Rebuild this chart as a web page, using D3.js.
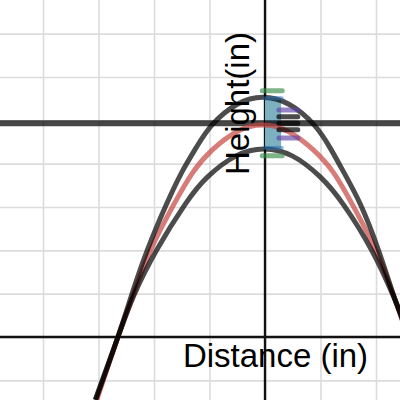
<!DOCTYPE html>
<html><head><meta charset="utf-8">
<script src="https://cdn.jsdelivr.net/npm/d3@7"></script>
<style>html,body{margin:0;padding:0;background:#fff;overflow:hidden}</style>
</head><body><svg id="c" width="400" height="400"></svg>
<script>
// ---- data ----
const xGridTicks = [-4, -3, -2, -1, 0, 1, 2];
const yGridTicks = [-1, 0, 1, 2, 3, 4, 5, 6, 7];
const xLabel = "Distance (in)";
const yLabel = "Height(in)";

const upperCurve = [[-3.05,-1.45],[-2.65,0],[-2.38,1.06],[-2.11,2.04],[-1.78,3.05],[-1.50,3.80],[-1.24,4.37],[-0.95,4.90],[-0.50,5.37],[-0.04,5.53],[0.43,5.37],[0.88,4.90],[1.17,4.37],[1.42,3.80],[1.73,3.03],[2.04,2.02],[2.29,1.06],[2.43,0.55],[2.58,0]];
const fitCurve = [[-3.03,-1.45],[-2.65,0],[-2.36,1.02],[-2.06,2.01],[-1.66,3.02],[-1.30,3.80],[-0.94,4.33],[-0.49,4.75],[-0.04,4.89],[0.41,4.75],[0.86,4.33],[1.23,3.80],[1.59,3.02],[1.99,2.01],[2.30,1.02],[2.43,0.56],[2.59,0]];
const lowerCurve = [[-3.06,-1.45],[-2.65,0],[-2.36,0.97],[-1.96,1.99],[-1.44,3.06],[-1.03,3.70],[-0.52,4.18],[-0.02,4.34],[0.49,4.18],[0.99,3.70],[1.41,3.06],[1.93,1.98],[2.31,0.95],[2.43,0.58],[2.61,0]];

const refLineY = 4.93;
const boxX = [0, 0.29];
const boxY = [4.35, 5.51];
const greenX = [-0.05, 0.31], greenY = [5.68, 4.18];
const blueX = [0.0, 0.30],   blueY = [5.51, 4.36];
const purpleX = [0.25, 0.59], purpleY = [5.24, 4.59];
const darkX = [0.25, 0.59],   darkY = [5.08, 4.93, 4.78];

// ---- drawing ----
const W = 400, H = 400;
const x = d3.scaleLinear().domain([-4.775, 2.432]).range([0, W]);
const y = d3.scaleLinear().domain([-1.454, 7.777]).range([H, 0]);
const svg = d3.select("#c");

// grid via axes
const gx = svg.append("g").attr("transform", `translate(0,${H})`)
  .call(d3.axisBottom(x).tickValues(xGridTicks).tickSize(-H).tickFormat(""));
const gy = svg.append("g")
  .call(d3.axisLeft(y).tickValues(yGridTicks).tickSize(-W).tickFormat(""));
[gx, gy].forEach(g => {
  g.select(".domain").remove();
  g.selectAll(".tick line").attr("stroke", "#dcdcdc").attr("stroke-width", 1.6);
});

// main axes
svg.append("line").attr("x1", x(0)).attr("x2", x(0)).attr("y1", 0).attr("y2", H)
  .attr("stroke", "#111").attr("stroke-width", 2.4);
svg.append("line").attr("x1", 0).attr("x2", W).attr("y1", y(0)).attr("y2", y(0))
  .attr("stroke", "#111").attr("stroke-width", 2.4);

// box
svg.append("rect")
  .attr("x", x(boxX[0])).attr("width", x(boxX[1]) - x(boxX[0]))
  .attr("y", y(boxY[1])).attr("height", y(boxY[0]) - y(boxY[1]))
  .attr("fill", "#7cb1c1");

// reference horizontal line
svg.append("line").attr("x1", 0).attr("x2", W).attr("y1", y(refLineY)).attr("y2", y(refLineY))
  .attr("stroke", "#000").attr("stroke-opacity", 0.72).attr("stroke-width", 6);

// curves
const line = d3.line().x(d => x(d[0])).y(d => y(d[1])).curve(d3.curveNatural);
svg.append("path").datum(fitCurve).attr("d", line)
  .attr("fill", "none").attr("stroke", "#c74440").attr("stroke-opacity", 0.7).attr("stroke-width", 5);
[upperCurve, lowerCurve].forEach(c => {
  svg.append("path").datum(c).attr("d", line)
    .attr("fill", "none").attr("stroke", "#000").attr("stroke-opacity", 0.7).attr("stroke-width", 5);
});

// caps
function caps(xs, ys, color, op, w) {
  svg.append("g").selectAll("line").data(ys).join("line")
    .attr("x1", x(xs[0])).attr("x2", x(xs[1]))
    .attr("y1", d => y(d)).attr("y2", d => y(d))
    .attr("stroke", color).attr("stroke-opacity", op).attr("stroke-width", w)
    .attr("stroke-linecap", "round");
}
caps(greenX, greenY, "#388c46", 0.65, 5);
caps(blueX, blueY, "#2d70b3", 0.55, 4);
caps(purpleX, purpleY, "#6042a6", 0.65, 5);
caps(darkX, darkY, "#000", 0.7, 5);

// labels
svg.append("text").text(xLabel)
  .attr("x", 275.5).attr("y", 366.5).attr("text-anchor", "middle")
  .attr("font-family", "Liberation Sans, Arial, sans-serif").attr("font-size", 33).attr("fill", "#000");
svg.append("text").text(yLabel)
  .attr("transform", "translate(248.5,103.5) rotate(-90)").attr("text-anchor", "middle")
  .attr("font-family", "Liberation Sans, Arial, sans-serif").attr("font-size", 33).attr("fill", "#000");
</script></body></html>
